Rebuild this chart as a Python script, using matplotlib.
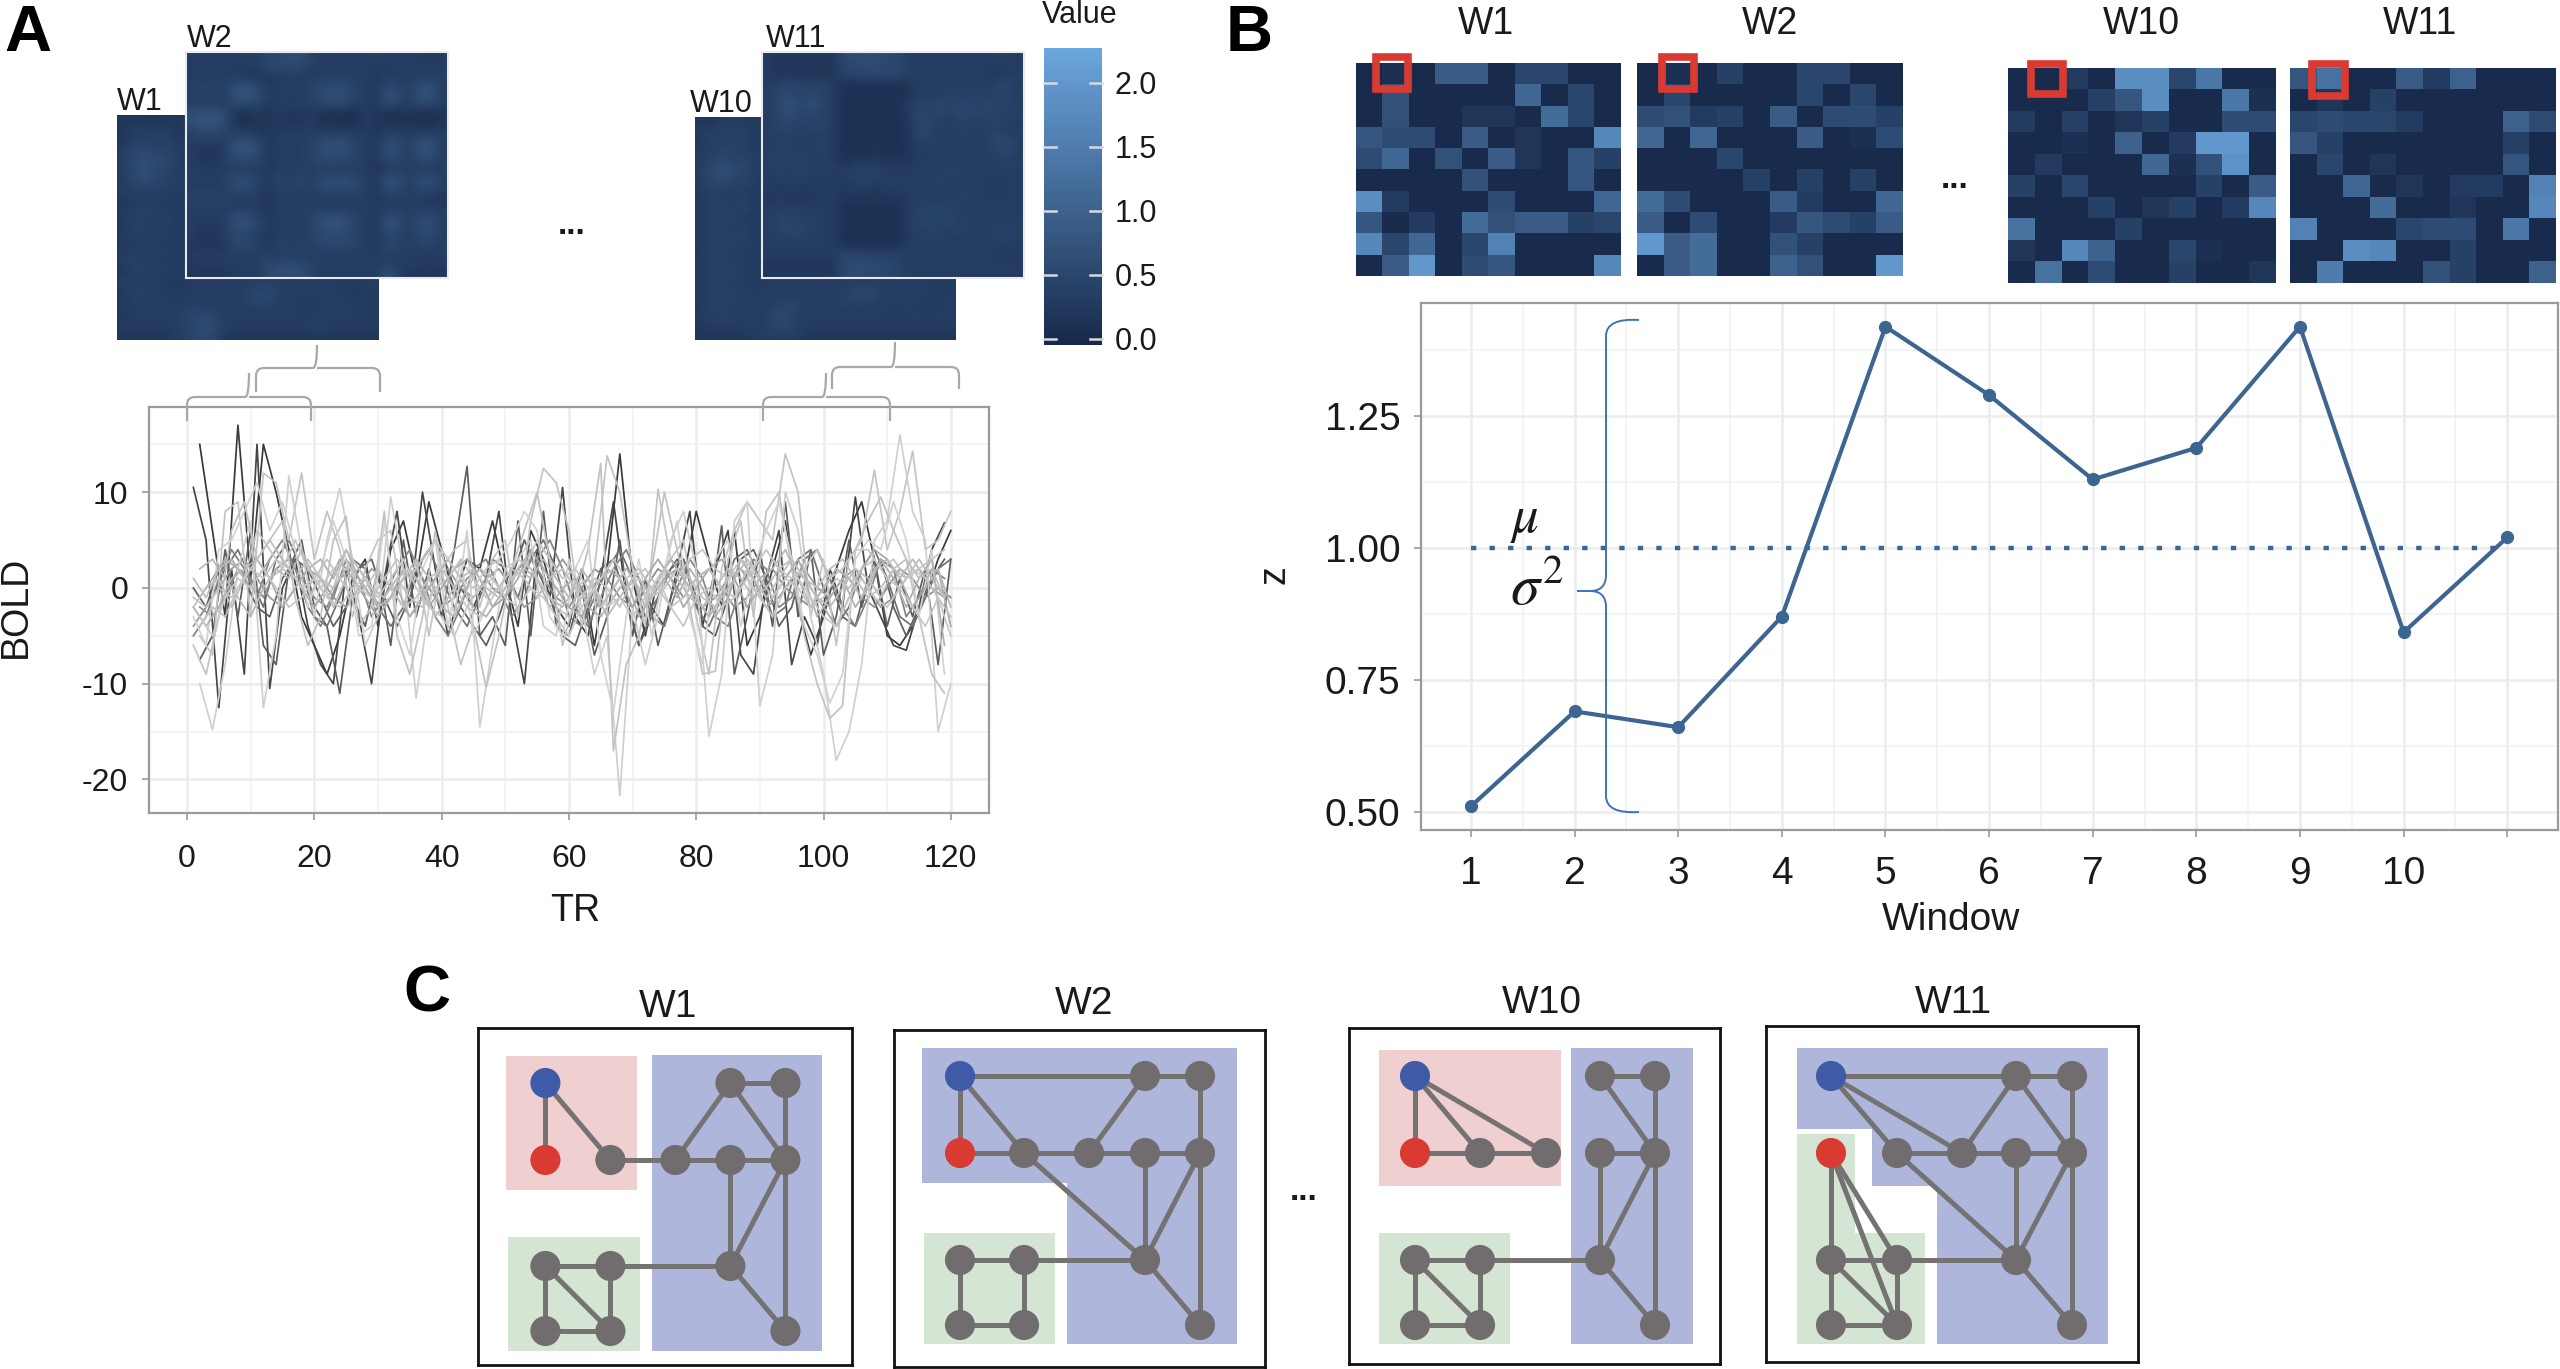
import numpy as np
import matplotlib
matplotlib.use('Agg')
import matplotlib.pyplot as plt
from matplotlib.colors import LinearSegmentedColormap, Normalize
from matplotlib.cm import ScalarMappable
from matplotlib.patches import PathPatch, Rectangle
from matplotlib.path import Path
from matplotlib.ticker import MultipleLocator

plt.rcParams['font.family'] = ['Liberation Sans', 'DejaVu Sans']
plt.rcParams['mathtext.fontset'] = 'stix'
plt.rcParams['axes.unicode_minus'] = False

W, H = 2560, 1369

# panel A, BOLD traces, one point every two TR
tr_even = list(range(2, 121, 2))
tr_odd = list(range(1, 120, 2))

bold_1 = [15, 6, -3, 17, 1, 15, 10, 4, -3, -6,
          -9, -5, 1, 3, -4, 4, 7, 1, 9, 4,
          -1, 3, 2, 7, 1, -4, 6, 3, -2, -4,
          2, -6, 2, 14, 1, -5, 1, 3, 1, 8,
          3, -2, 6, -6, -3, 2, 7, -2, -7, -3,
          2, 6, 9, 3, -5, -6, -4, -1, 3, 6]
bold_2 = [10.5, 5, -12.5, 2, -9, 15, -10.5, 0, 3, -4,
          -8, -10, 2, -3, -10, 1, 8, -2, 10, 2,
          -5, 0, -2, 1, 8, -3, -10, 4, -1, 10.5,
          -3, -5, 1, 9, -1, -6, -2, -4, 2, 8,
          -4, 2, 6, -7, -9, 1, 6, -8, -3, -6,
          2, -2, 9.5, 0, -3, -6, -6.5, -2, 4, 6.8]
bold_3 = [-7.5, -5, 4, -3, 6, -6, -8, 2, 5, -2,
          -4, -11, -1, -4, 2, -6, 5, -3, 2, -3,
          4, 12.7, -5, -3, -6, 7, -5, 8, -4, -5,
          0, -7, -3, 5, -5, 1, -6, -1, 3, -1,
          -3, 6.5, -9, -3, 4, -4, 9, -3, 4, -7,
          -3, 5, -2, 3, -4, 1, -3, 2, -8, 3]
bold_4 = [0, -2, 2, 3, 1, -2, -3, 1, 3, 2,
          -1, -4, -2, 2, 3, -1, -4, -1, 3, 5,
          2, -2, -4, -6, -3, 1, 5, 2, -1, -5,
          -6, -2, 2, 3, -1, -6, -3, 1, 3, 1,
          -4, -5, -1, 3, 4, 1, -4, -2, 3, 4,
          1, -3, -4, 1, 3, -2, -5, -2, 1, 3]
bold_5 = [-3, -1, 2, 4, 1, -2, 3, 5, 2, -3,
          -4, -1, 3, 2, -2, -4, -2, 2, 4, 1,
          -2, -4, -1, 3, 2, -1, 3, 5, 2, -3,
          -4, -1, 2, 4, 1, -3, -1, 2, 3, -2,
          -4, -1, 3, 4, 1, -3, -2, 3, 4, 0,
          -4, -2, 2, 4, 1, -3, -4, -1, 2, 3]
bold_6 = [-5, -3, 1, 4, 2, -1, 3, 5, 2, -2,
          -4, -1, 3, 1, -3, -1, 2, 4, 1, -3,
          -5, -2, 2, 3, 0, -3, -1, 3, 5, 2,
          -2, -4, -1, 2, 4, 1, -3, -4, 0, 3,
          1, -3, -4, 0, 3, 2, -2, -1, 3, 4,
          1, -2, -4, -1, 3, 2, -3, -1, 2, 1]
bold_7 = [-2, -3, -1, 2, 1, -1, 2, 3, 1, -1,
          -2, 1, 2, 0, -2, -1, 1, 2, 0, -2,
          -1, 1, 2, 0, -1, 2, 3, 1, -1, -2,
          0, 2, 1, -1, -2, 0, 2, 1, -1, 1,
          2, 0, -2, -1, 1, 2, 0, -1, -2, 0,
          2, 1, -1, -2, 0, 2, 1, -1, 0, -1]
bold_8 = [-4, -2, 0, 2, 3, 1, -1, -2, 0, 2,
          1, -1, -2, 0, 2, 1, -1, -3, -1, 1,
          2, 0, -1, 1, 2, 0, -2, -1, 1, 3,
          1, -1, -2, 0, 2, 1, -1, 1, 2, 0,
          -2, -1, 1, 2, 0, -2, -1, 1, 2, 0,
          -1, 1, 2, 0, -2, -1, 1, 2, 0, -1]
bold_9 = [-5, -7, 8, 9, -3, 12, 11, 5, 12, 3,
          8, 4, -3, 2, 5, 6, -2, 3, -5, 2,
          4, 5, -2, 3, 5, -3, 7, 12.5, 11, 6,
          -4, 2, 13.8, 10, 2, -4, 10.3, 3, 5, -3,
          -9, 2, 6, 9, 7, 5, 14, 10, -3, 3,
          -6, 3, 5, 12.3, 4, 8, 14.3, 4, 5, 8]
bold_10 = [-10, -14.8, -8, 2, 7, -12.5, -5, 11.7, 4, -3,
           5, 10.4, 3, -6, -3, 9.5, 2, -11.5, -2, 4,
           -3, 6, -14.5, -6, 2, 3, 5, -4, -5, 3,
           -2, -9, -5, -21.7, -2, -8, -3, 5, 8, 2,
           -15.5, -9, 7, 9, -12.3, -7, 10, 6, -3, -9,
           -18, -15, -8, 5, 7, 16, 8, 5, -15, -10]
bold_11 = [-6, -9, -3, 6, 9, 3, 5, 7, -1, -6,
           -3, 5, 7.5, -4, -2, 8, -5, -9, -3, 6,
           -2, -8, -4, -10.4, -5, 2, 6, 10, 3, -6,
           -1, 4, 13, -17, -8, -5, 2, 10, 4, -2,
           -9, -8.7, 3, 7, -3, 8, 10, 2, -5, -10,
           -13.6, -12.3, 4, 7, 9.5, 6, 3, -3, -9, -11]
bold_12 = [-3, -6, 4, 5, 8, 11, 6, 9, 4, -2,
           2, 7, 3, -5, -4, 7, -3, -7, 2, 5,
           -4, 3, -5, -2, 3, 5, 8, 6, -3, -5,
           2, 5, -7, -13, -3, 3, -5, 2, 7, -3,
           -8, 3, 5, -4, 2, 6, 9, 3, -4, -7,
           -12, -9, 3, 5, 4, 9, 5, -3, 4, -9]
bold_13 = [-1, 1, 3, 2, 0, 2, 4, 2, 0, -2,
           0, 3, 1, -1, -3, -1, 2, 1, -2, 0,
           2, 3, 1, -2, -1, 1, 4, 2, 0, -2,
           -3, 0, 2, 1, -2, 1, 3, 1, -2, 0,
           2, 3, 1, -2, 0, 3, 1, 3, 0, -2,
           -4, -1, 2, 4, 3, 1, -2, 0, 2, -4]
bold_14 = [-2, -4, -2, 1, 2, 3, 1, -2, 0, 2,
           3, 1, 4, 1, -1, -2, 0, -3, -1, 1,
           3, 1, -2, -3, -1, 1, 2, 1, -2, 0,
           1, -2, -3, -1, 1, -3, -1, 1, -1, 2,
           0, -3, -1, 3, 1, -2, 0, 2, 1, -3,
           -1, 1, -2, 0, 3, 1, -2, 1, 3, -6]
bold_15 = [2, 3, 1, -1, -3, 0, 2, 1, 4, 1,
           -1, 1, 3, 1, -2, -1, 1, 3, 1, -2,
           -3, 0, 2, 1, -1, 2, 1, 3, 1, -1,
           2, 0, -3, -1, 1, -2, 1, 3, 1, -1,
           -3, -1, 1, 3, 1, 2, 4, 1, -2, 0,
           2, 1, -1, 2, 3, 1, 3, 1, 2, -2]
bold_16 = [1, -1, 2, 3, 1, 3, 1, 2, 1, -1,
           1, -2, 1, 2, 0, -1, 1, 2, 0, -3,
           -1, 1, 2, 0, -1, 1, 3, 1, -1, -2,
           0, 1, -2, 0, 2, 0, -1, 2, 1, -1,
           -2, 0, 2, 1, -1, 0, 2, 3, 1, -1,
           -2, 0, 2, 1, -1, 2, 1, 3, 1, -1]
bold_17 = [-4, -2, -3, 0, 2, 1, 3, 2, 0, 1,
           3, 1, -1, 0, 2, 0, -2, -1, 1, 2,
           0, -2, -3, -1, 1, 3, 2, 0, -2, -3,
           -1, 1, 0, -2, 1, 2, 0, -2, -1, 1,
           2, 0, -1, 2, 1, -1, 1, 0, -2, -1,
           1, 0, 2, 3, 1, 0, 2, 1, -1, -3]
bold_18 = [-2, 0, 1, -2, 1, 3, 5, 3, 1, 3,
           1, 0, 4, 2, 0, -1, 1, -1, -2, 0,
           1, 3, 1, -1, 0, 2, 1, -1, 1, 2,
           0, -1, 1, 2, 0, 1, -1, 0, 2, 1,
           -1, -2, 1, 2, 1, -1, 1, 3, 1, 0,
           2, 3, 1, -1, 0, 2, 3, 1, 2, -1]
bold_19 = [-3, -5, -1, 1, 0, 2, 0, -2, -1, 1,
           -1, -2, 0, 1, -1, 1, 3, 0, -2, -3,
           -5, -2, 0, 1, -1, -2, 0, -1, -3, -5,
           -2, 0, -2, -1, -3, -1, 1, -2, -4, -1,
           0, -2, -1, 1, -1, -3, 0, 1, -1, -3,
           -4, -1, 1, -1, -2, 0, -2, -4, -1, -5]
bold_20 = [-1, -2, 0, -1, 1, 6, 4, 2, 5, 2,
           0, 2, 3, 0, -1, 1, 3, 1, 3, 5,
           3, 1, 0, 2, 3, 1, 2, 5, 3, 1,
           2, 0, 1, 3, 1, 2, 0, 2, 1, 3,
           4, 2, 1, 3, 2, 4, 2, 1, 2, 4,
           1, 2, 4, 4, 2, 3, 1, 2, 3, 4]

bold_series = [(tr_even, bold_1, '#3a3a3a'), (tr_odd, bold_2, '#454545'), (tr_even, bold_3, '#5c5c5c'),
               (tr_odd, bold_4, '#5e5e5e'), (tr_even, bold_5, '#707070'), (tr_odd, bold_6, '#828282'),
               (tr_even, bold_7, '#8c8c8c'), (tr_odd, bold_8, '#999999'), (tr_even, bold_9, '#c4c4c4'),
               (tr_even, bold_10, '#cfcfcf'), (tr_odd, bold_11, '#c2c2c2'), (tr_odd, bold_12, '#d2d2d2'),
               (tr_even, bold_13, '#a8a8a8'), (tr_odd, bold_14, '#b0b0b0'), (tr_even, bold_15, '#b8b8b8'),
               (tr_odd, bold_16, '#bcbcbc'), (tr_even, bold_17, '#c4c4c4'), (tr_odd, bold_18, '#c0c0c0'),
               (tr_even, bold_19, '#c8c8c8'), (tr_odd, bold_20, '#c6c6c6')]

# panel A, connectivity matrices at low resolution, one digit per block
fc_w1 = ['2222 2233 3333 3333 3333 3333', '2333 3233 3333 3333 3333 3333', '2343 4233 3333 3333 3333 3333',
         '3454 4333 3333 3333 3333 3333', '3565 5333 3333 3333 3333 3333', '3565 5333 3333 3333 3333 3333',
         '3565 4333 3333 3333 3333 3333', '3454 4333 3333 3333 3333 3333', '3333 3333 3333 3333 3333 3333',
         '2333 3233 3333 3333 3333 3333', '3343 3333 3333 3333 3333 3333', '2433 4233 3333 3333 3333 3333',
         '3343 3333 3333 3333 3333 3333', '2333 3233 3333 3333 3333 3333', '3333 3333 3333 3333 3333 3333',
         '3433 3233 3333 3333 3333 3333', '2343 3333 3333 3333 3333 3333', '3333 3233 3333 3333 3333 3333',
         '3433 3233 3333 4543 3333 3233', '2343 3333 3333 5543 3333 3323', '3333 3334 3333 3433 3233 3333',
         '2333 3355 5333 3333 3333 3323', '3333 3345 6433 3333 3343 3333', '2222 2345 5322 2222 2222 2222']
fc_w2 = ['3333 3335 5664 3333 3333 3323', '3333 3335 5553 3333 3333 3333', '3333 3222 3333 3333 3233 3333',
         '3443 6652 3334 5554 3254 3663', '3443 7763 3334 6664 3275 3773', '3333 5552 3333 5553 3264 3553',
         '6776 1122 3223 1111 3211 2112', '6776 2122 2223 1211 3221 2112', '4554 3322 3333 3333 3233 3333',
         '3333 6652 3334 5664 3265 3663', '3223 7762 3334 6664 3275 3773', '3223 5552 3334 5554 3254 3553',
         '3333 3332 3333 3333 3233 3333', '3333 6642 5353 6665 3276 3663', '3333 5542 4343 5555 3265 3553',
         '4444 3332 3333 3333 3233 3322', '3333 3332 3333 3333 3333 3333', '3333 6642 3334 6664 3265 3553',
         '3223 6652 3334 6764 3275 3663', '3223 5532 3334 5554 3254 3553', '2222 5542 4343 5554 3254 3443',
         '3333 3333 3333 3333 3333 3333', '2333 3335 5654 3333 3343 3323', '2222 3335 6664 3333 3373 2222']
fc_w10 = ['2233 3233 3333 3333 3333 3333', '3344 3333 3333 3333 3333 3333', '2434 4233 3333 3333 3333 3333',
          '3344 3333 3333 3333 3333 3333', '3454 4333 3333 3333 3333 3333', '3565 5333 3333 3333 3333 3333',
          '3565 4333 3333 3333 3333 3333', '3443 4333 3333 3333 3333 3333', '2433 3233 3333 3333 3333 3333',
          '3343 4333 3333 3333 3333 3333', '2434 3233 3333 3333 3333 3333', '3343 3333 3333 3333 3333 3333',
          '2433 4233 3333 3333 3333 3333', '3344 3333 3333 3333 3333 3333', '2433 3333 3333 3333 3333 3333',
          '3343 3233 3333 3333 3333 3333', '2434 3333 3333 3333 3333 3333', '3343 3233 3333 3333 3333 3333',
          '2433 3333 3333 3345 4333 3323', '3344 3333 3333 3445 4333 3333', '2433 3334 5433 3333 3333 3233',
          '3343 3335 5333 3333 3323 3333', '2333 3335 5333 3333 3333 3333', '2222 2333 3322 2222 2222 2222']
fc_w11 = ['3222 2225 6665 5333 3333 3333', '3222 2225 5555 5333 3333 3333', '3222 2224 4555 4333 3333 3233',
          '3454 4431 1111 1233 3333 3453', '3454 5431 1111 1233 3434 3443', '3575 6531 1111 1344 5454 5443',
          '3464 5431 1111 1354 4454 4443', '3454 4431 1111 1254 3343 4433', '3443 4431 1111 1254 3343 3433',
          '3333 3331 1111 1243 3333 3553', '3443 3431 1121 1233 3333 3453', '3434 3331 2222 2233 3333 3343',
          '3434 3333 4443 3333 3433 3333', '3333 3333 3433 3333 4333 3333', '3232 3232 3323 3333 3333 3233',
          '2323 2332 2222 2333 3343 3333', '3333 3331 1111 1344 4433 3433', '3444 3331 2121 1344 4433 3333',
          '3454 4331 1111 1344 4443 3343', '3344 3331 1111 1334 3333 3443', '3333 3331 1111 1333 3333 3333',
          '3333 3335 5444 4333 3333 3323', '2222 2225 5655 4333 3333 3333', '2222 2225 6555 4333 3333 3333']
FC_UNIT = .105

# panel B, the 10 x 10 matrices
net_w1 = [[0, .1, 0, .9, .9, 0, .5, .5, 0, 0],
          [0, .7, 0, 0, 0, 0, 1.1, 0, .5, 0],
          [0, .7, 0, 0, .2, .2, 0, 1.2, .5, 0],
          [.8, .6, .6, 0, .9, 0, .2, 0, 0, 1.7],
          [.6, 1.1, 0, .7, 0, .9, .2, 0, .8, .4],
          [0, 0, 0, 0, .7, 0, 0, 0, .8, 0],
          [1.8, .3, 0, 0, 0, .6, 0, 0, 0, 1.1],
          [.8, 0, .3, 0, 1.2, .7, .9, .9, .4, .5],
          [1.7, .5, 1.1, 0, .5, 1.6, 0, 0, 0, 0],
          [0, .9, 2.0, 0, .6, .8, 0, 0, 0, 1.7]]
net_w2 = [[0, .1, 0, .4, 0, 0, .5, .5, 0, 0],
          [0, .5, 0, 0, 0, 0, .5, 0, .5, 0],
          [.6, .7, .3, .4, 0, .9, 0, .6, .6, .4],
          [1.1, 0, 1.1, 0, 0, 0, .9, 0, .1, .6],
          [0, 0, 0, .5, 0, 0, 0, 0, 0, 0],
          [0, 0, 0, 0, .4, 0, .4, 0, .4, 0],
          [1.2, .6, 0, 0, 0, .9, .3, 0, 0, 1.1],
          [.9, 0, .6, 0, 0, .3, .8, .6, .4, .9],
          [2.0, .9, 1.2, 0, 0, .7, .4, 0, 0, 0],
          [0, .9, 1.2, 0, 0, 1.0, .7, 0, 0, 2.0]]
net_w10 = [[0, 0, .3, 0, 1.8, 1.8, .5, 1.4, 0, 0],
           [0, 0, 0, .4, .8, 1.8, 0, 0, 1.4, .1],
           [.3, 0, .4, 0, .2, .4, 0, 0, .6, .6],
           [0, 0, .1, 0, 1.0, 0, .3, 2.0, 2.0, 0],
           [0, .3, 0, 0, 0, 1.1, .1, .7, 1.9, 0],
           [.4, 0, .5, 0, 0, 0, 0, .4, 0, .9],
           [0, 0, 0, .4, 0, .2, .4, 0, .3, 1.7],
           [1.3, 0, 0, 0, .4, 0, 0, 0, 0, 0],
           [.2, 0, 1.7, 1.0, 0, 0, .5, .1, 0, 0],
           [0, 1.3, 0, .6, 0, 0, .4, 0, 0, .2]]
net_w11 = [[.8, 1.3, 0, 0, .9, .3, 1.0, 0, 0, 0],
           [0, .2, 0, .4, 0, 0, 0, 0, 0, 0],
           [.5, .6, .5, .5, .3, 0, 0, 0, 1.0, .6],
           [.8, .4, 0, 0, 0, 0, 0, 0, .4, 0],
           [0, .5, 0, .2, 0, 0, 0, 0, .8, 0],
           [0, 0, 1.1, 0, .2, 0, .3, .3, 0, 1.6],
           [0, 0, 0, 1.2, 0, 0, .2, 0, 0, 1.7],
           [1.6, 0, 0, 0, .5, .6, .6, 0, 1.4, 0],
           [0, 0, 1.8, 1.7, 0, 0, .4, 0, 0, 0],
           [0, 1.5, 0, 0, 0, .7, .4, 0, 0, 1.0]]

# panel B, similarity per window
windows = [1, 2, 3, 4, 5, 6, 7, 8, 9, 10, 11]
z_values = [.51, .69, .66, .87, 1.42, 1.29, 1.13, 1.19, 1.42, .84, 1.02]
z_mean = 1.0

# panel C, the node names are column then row on each graph's grid
nodes = ['00', '30', '40', '01', '11', '21', '31', '41', '02', '12', '32', '03', '13', '43']

g1_cols = [67, 132, 197, 252, 307]
g1_rows = [55, 132, 238, 303]
g1_edges = ['00-01', '00-11', '11-21', '21-31', '31-41', '21-30', '30-40', '30-41', '40-41', '31-32',
            '41-32', '41-43', '12-32', '32-43', '02-12', '02-03', '02-13', '12-13', '03-13']
g1_regions = [('#f0cfd1', 28, 28, 159, 162), ('#aeb6dc', 174, 27, 344, 323), ('#d5e5d4', 30, 209, 162, 323)]

g2_cols = [66, 130, 195, 251, 306]
g2_rows = [46, 123, 230, 295]
g2_edges = ['00-30', '30-40', '00-01', '00-11', '01-11', '11-21', '21-31', '31-41', '21-30', '40-41',
            '11-32', '31-32', '41-32', '41-43', '32-43', '02-12', '12-32', '02-03', '12-13', '03-13']
g2_regions = [('#aeb6dc', 28, 18, 343, 153), ('#aeb6dc', 173, 153, 343, 314), ('#d5e5d4', 30, 203, 161, 314)]

g10_cols = [66, 131, 197, 251, 306]
g10_rows = [48, 125, 232, 297]
g10_edges = ['00-01', '00-11', '00-21', '01-11', '11-21', '30-40', '30-41', '40-41', '31-41', '31-32',
             '41-32', '41-43', '32-43', '02-12', '12-32', '02-03', '02-13', '12-13', '03-13']
g10_regions = [('#f0cfd1', 30, 22, 212, 158), ('#aeb6dc', 222, 20, 344, 316), ('#d5e5d4', 30, 205, 161, 316)]

g11_cols = [65, 131, 196, 250, 306]
g11_rows = [50, 127, 234, 299]
g11_edges = ['00-30', '30-40', '00-11', '00-21', '11-21', '21-31', '31-41', '21-30', '30-41', '40-41',
             '11-32', '31-32', '41-32', '41-43', '32-43', '02-12', '12-32', '01-02', '01-12', '01-13',
             '02-03', '02-13', '12-13', '03-13']
g11_regions = [('#aeb6dc', 31, 22, 342, 103), ('#aeb6dc', 106, 103, 342, 160), ('#aeb6dc', 171, 160, 342, 318),
               ('#d5e5d4', 31, 108, 89, 318), ('#d5e5d4', 31, 207, 159, 318)]

cmap = LinearSegmentedColormap.from_list('value', ['#17294a', '#6ba6de'])
norm = Normalize(-0.05, 2.27)
LINE_BLUE = '#3d6591'
GRID = '#ececec'
FRAME = '#9a9a9a'
TEXT = '#1a1a1a'

fig = plt.figure(figsize=(W / 100, H / 100), dpi=100)


def px_axes(left, top, right, bottom, **kw):
    return fig.add_axes([left / W, 1 - bottom / H, (right - left) / W, (bottom - top) / H], **kw)


def fc_grid(rows):
    return np.array([[int(c) * FC_UNIT for c in r.replace(' ', '')] for r in rows])


def matrix(values, left, top, right, bottom, interp, white_edge=False):
    ax = px_axes(left, top, right, bottom)
    ax.imshow(values, cmap=cmap, norm=norm, aspect='auto', interpolation=interp)
    ax.set_xticks([])
    ax.set_yticks([])
    for s in ax.spines.values():
        s.set_visible(white_edge)
        s.set_color('#e8eaee')
        s.set_linewidth(1.5)
    return ax


# panel A matrices
matrix(fc_grid(fc_w1), 117, 115, 379, 340, 'bicubic')
matrix(fc_grid(fc_w2), 186, 52, 448, 278, 'bicubic', white_edge=True)
matrix(fc_grid(fc_w10), 695, 117, 956, 340, 'bicubic')
matrix(fc_grid(fc_w11), 762, 52, 1024, 278, 'bicubic', white_edge=True)

# colour bar
cax = px_axes(1044, 48, 1102, 345)
cbar = fig.colorbar(ScalarMappable(norm=norm, cmap=cmap), cax=cax)
cbar.outline.set_visible(False)
cbar.set_ticks([0, .5, 1, 1.5, 2])
cbar.set_ticklabels(['0.0', '0.5', '1.0', '1.5', '2.0'])
cax.tick_params(length=0, labelsize=22, labelcolor=TEXT, pad=9)
for v in [0, .5, 1, 1.5, 2]:
    for a, b in [(0, .2), (.8, 1)]:
        cax.plot([a, b], [v, v], color='#d5dae2', lw=1.8, transform=cax.get_yaxis_transform(), clip_on=False)

# BOLD traces
ax_bold = px_axes(149, 407, 989, 813)
for tr, vals, col in bold_series:
    ax_bold.plot(tr, vals, color=col, lw=1.25, zorder=3)
ax_bold.set_xlim(-5.97, 126)
ax_bold.set_ylim(-23.5, 18.9)
ax_bold.set_xticks([0, 20, 40, 60, 80, 100, 120])
ax_bold.set_yticks([-20, -10, 0, 10])
ax_bold.xaxis.set_minor_locator(MultipleLocator(10))
ax_bold.yaxis.set_minor_locator(MultipleLocator(5))
ax_bold.grid(which='major', color=GRID, lw=1.8)
ax_bold.grid(which='minor', color='#f2f2f2', lw=1.2)
ax_bold.set_axisbelow(True)
ax_bold.tick_params(axis='both', which='major', labelsize=23, labelcolor=TEXT, color=FRAME, length=5, width=1.2)
ax_bold.tick_params(axis='x', pad=17)
ax_bold.tick_params(axis='y', pad=10)
ax_bold.tick_params(which='minor', length=0)
for s in ax_bold.spines.values():
    s.set_color(FRAME)
    s.set_linewidth(1.6)
ax_bold.set_xlabel('TR', fontsize=27, color=TEXT)
ax_bold.xaxis.set_label_coords((575 - 149) / 840, -(893 - 813) / 406)
ax_bold.set_ylabel('BOLD', fontsize=27, color=TEXT)
ax_bold.yaxis.set_label_coords(-(149 - 34) / 840, (813 - 607) / 406)

# panel B matrices
matrix(net_w1, 1356, 63, 1621, 276, 'nearest')
matrix(net_w2, 1637, 63, 1903, 276, 'nearest')
matrix(net_w10, 2008, 68, 2276, 283, 'nearest')
matrix(net_w11, 2290, 68, 2556, 283, 'nearest')

# z per window
ax_z = px_axes(1420.6, 302.6, 2558, 829.6)
ax_z.plot(windows, z_values, color=LINE_BLUE, lw=3, marker='o', ms=8.5, zorder=3)
ax_z.plot([windows[0], windows[-1]], [z_mean, z_mean], color=LINE_BLUE, lw=3.2, ls=(0, (1.2, 2.97)), zorder=3)
ax_z.set_xlim(.5135, 11.49)
ax_z.set_ylim(.4657, 1.4656)
ax_z.set_xticks(windows)
ax_z.set_xticklabels([str(w) for w in windows[:-1]] + [''])
ax_z.set_yticks([.5, .75, 1, 1.25])
ax_z.set_yticklabels(['0.50', '0.75', '1.00', '1.25'])
ax_z.xaxis.set_minor_locator(MultipleLocator(.5))
ax_z.yaxis.set_minor_locator(MultipleLocator(.125))
ax_z.grid(which='major', color=GRID, lw=1.8)
ax_z.grid(which='minor', color='#f2f2f2', lw=1.2)
ax_z.set_axisbelow(True)
ax_z.tick_params(axis='both', which='major', labelsize=28, labelcolor=TEXT, color=FRAME, length=5, width=1.2)
ax_z.tick_params(axis='x', pad=14)
ax_z.tick_params(axis='y', pad=9.5)
ax_z.tick_params(which='minor', length=0)
for s in ax_z.spines.values():
    s.set_color(FRAME)
    s.set_linewidth(1.6)
ax_z.set_xlabel('Window', fontsize=28, color=TEXT)
ax_z.xaxis.set_label_coords((1951 - 1420.6) / 1137.4, -(902 - 829.6) / 527)
ax_z.set_ylabel('z', fontsize=27, color=TEXT)
ax_z.yaxis.set_label_coords(-(1420.6 - 1293) / 1137.4, (829.6 - 575) / 527)


# panel C graphs
def graph(left, top, right, bottom, cols, rows, edges, regions):
    ax = px_axes(left, top, right, bottom)
    ax.set_xlim(0, right - left)
    ax.set_ylim(bottom - top, 0)
    ax.set_xticks([])
    ax.set_yticks([])
    for s in ax.spines.values():
        s.set_color('#111111')
        s.set_linewidth(2)
    for col, x0, y0, x1, y1 in regions:
        ax.add_patch(Rectangle((x0, y0), x1 - x0, y1 - y0, facecolor=col, edgecolor='none', zorder=1))
    for e in edges:
        a, b = e.split('-')
        ax.plot([cols[int(a[0])], cols[int(b[0])]], [rows[int(a[1])], rows[int(b[1])]],
                color='#757272', lw=3.6, zorder=2)
    for n in nodes:
        col = {'00': '#3f5aa6', '01': '#d93a32'}.get(n, '#716d6e')
        ax.scatter(cols[int(n[0])], rows[int(n[1])], s=470, color=col, edgecolors='none', zorder=3)


graph(478.4, 1028, 852, 1365, g1_cols, g1_rows, g1_edges, g1_regions)
graph(894, 1030, 1265, 1367, g2_cols, g2_rows, g2_edges, g2_regions)
graph(1349, 1028, 1720, 1364, g10_cols, g10_rows, g10_edges, g10_regions)
graph(1766, 1026, 2138, 1362, g11_cols, g11_rows, g11_edges, g11_regions)

# overlay in picture pixels for labels and brackets
over = fig.add_axes([0, 0, 1, 1], zorder=10)
over.set_xlim(0, W)
over.set_ylim(H, 0)
over.axis('off')
over.patch.set_alpha(0)


def label(x, y, s, size=22, ha='center', va='center', **kw):
    over.text(x, y, s, fontsize=size, ha=ha, va=va, color=kw.pop('color', TEXT), **kw)


def bracket(stem_x, stem_top, bar_y, left, right, end_y):
    col = '#a8a8a8'
    r = 8
    verts = [(left, end_y), (left, bar_y + r), (left, bar_y), (left + r, bar_y), (stem_x - 4, bar_y),
             (stem_x, bar_y), (stem_x, stem_top), (stem_x, bar_y), (stem_x + 4, bar_y),
             (right - r, bar_y), (right, bar_y), (right, bar_y + r), (right, end_y)]
    codes = [Path.MOVETO, Path.LINETO, Path.CURVE3, Path.CURVE3, Path.LINETO,
             Path.CURVE3, Path.CURVE3, Path.MOVETO, Path.LINETO,
             Path.LINETO, Path.CURVE3, Path.CURVE3, Path.LINETO]
    over.add_patch(PathPatch(Path(verts, codes), fill=False, edgecolor=col, lw=1.6))


bracket(317, 345, 368, 256, 380, 392)
bracket(249, 373, 397, 187, 311, 421)
bracket(895, 342, 367, 832, 959, 389)
bracket(826, 373, 397, 763, 890, 421)

# curly brace next to the z line
brace = [(1639, 320), (1606, 318), (1606, 336), (1606, 575), (1606, 591), (1590, 591), (1577, 591),
         (1590, 591), (1606, 591), (1606, 607), (1606, 796), (1606, 814), (1639, 812)]
brace_codes = [Path.MOVETO, Path.CURVE3, Path.CURVE3, Path.LINETO, Path.CURVE3, Path.CURVE3, Path.LINETO,
               Path.MOVETO, Path.CURVE3, Path.CURVE3, Path.LINETO, Path.CURVE3, Path.CURVE3]
over.add_patch(PathPatch(Path(brace, brace_codes), fill=False, edgecolor='#3f72b3', lw=1.4))
label(1525, 520, r'$\mu$', size=38)
label(1537, 590, r'$\sigma^{2}$', size=42)

# matrix names
label(117, 110, 'W1', ha='left', va='baseline')
label(187, 47, 'W2', ha='left', va='baseline')
label(690, 112, 'W10', ha='left', va='baseline')
label(766, 47, 'W11', ha='left', va='baseline')
label(1080, 15, 'Value', size=22)
for x, s in [(1486, 'W1'), (1770, 'W2'), (2141, 'W10'), (2420, 'W11')]:
    label(x, 24, s, size=27)
for x, y, s in [(668, 1007, 'W1'), (1084, 1004, 'W2'), (1542, 1003, 'W10'), (1953, 1003, 'W11')]:
    label(x, y, s, size=28)
for x, y in [(572, 225), (1955, 180), (1304, 1192)]:
    label(x, y, '...', size=24, fontweight='bold')

label(4, 51, 'A', size=47, ha='left', va='baseline', fontweight='bold', color='black')
label(1226, 51, 'B', size=47, ha='left', va='baseline', fontweight='bold', color='black')
label(403, 1011, 'C', size=47, ha='left', va='baseline', fontweight='bold', color='black')

# red boxes on the first row of panel B
for x0, y0, x1, y1 in [(1376, 57, 1408, 89), (1662, 57, 1694, 89), (2031, 64, 2063, 94), (2312, 64, 2345, 96)]:
    over.add_patch(Rectangle((x0, y0), x1 - x0, y1 - y0, fill=False, edgecolor='#d93a32', lw=5.5))

fig.savefig('out.png', dpi=100)
